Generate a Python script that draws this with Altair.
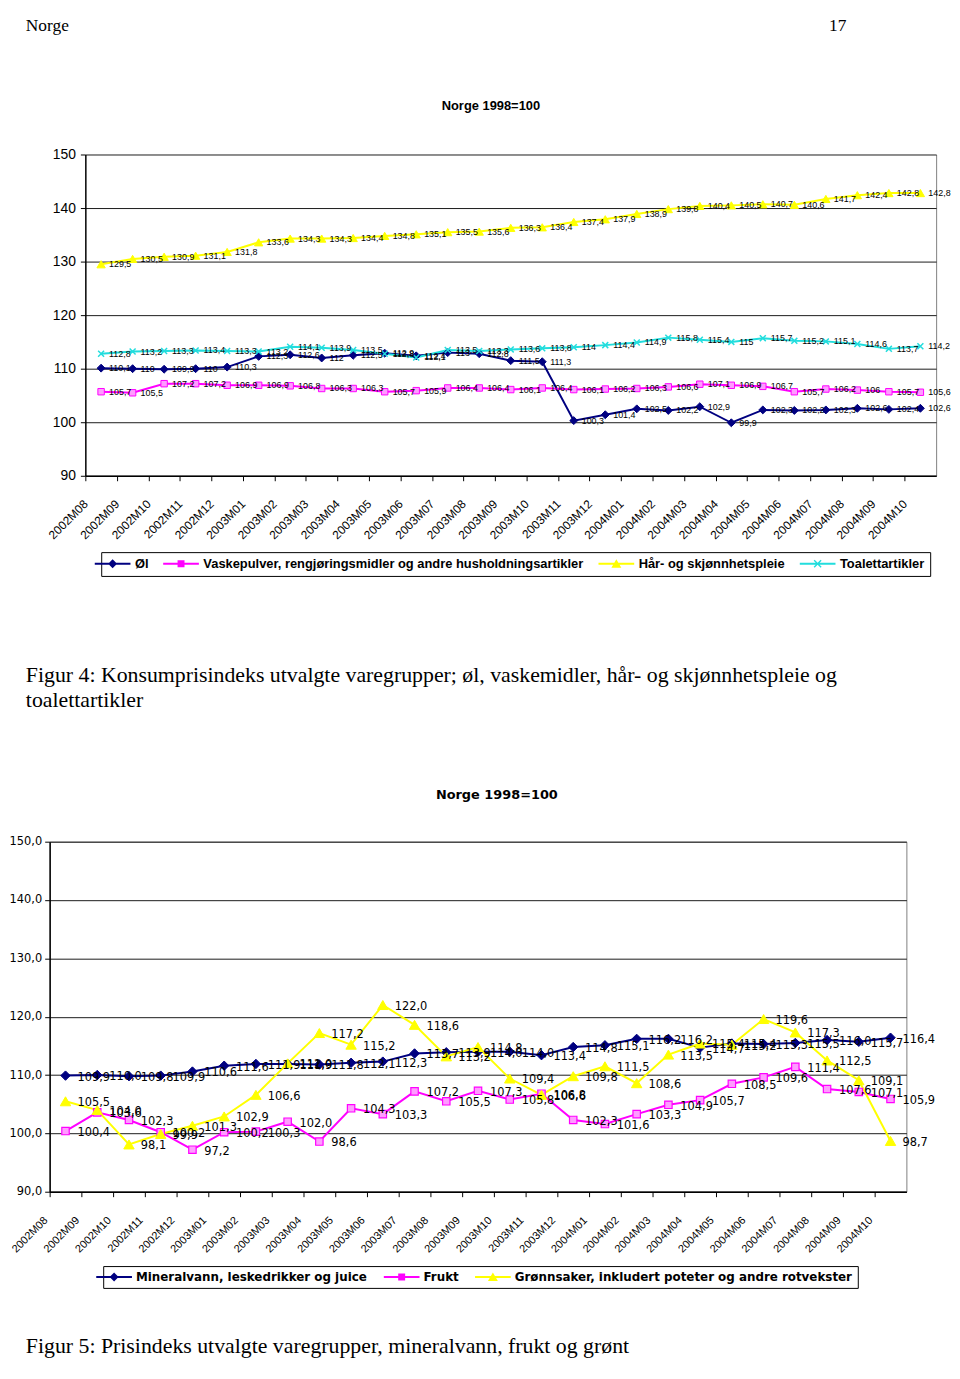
import altair as alt
import pandas as pd

# ---------------- data ----------------
months = ["2002M08", "2002M09", "2002M10", "2002M11", "2002M12",
          "2003M01", "2003M02", "2003M03", "2003M04", "2003M05", "2003M06",
          "2003M07", "2003M08", "2003M09", "2003M10", "2003M11", "2003M12",
          "2004M01", "2004M02", "2004M03", "2004M04", "2004M05", "2004M06",
          "2004M07", "2004M08", "2004M09", "2004M10"]

# Figur 4
fig4_names = ["Øl",
              "Vaskepulver, rengjøringsmidler og andre husholdningsartikler",
              "Hår- og skjønnhetspleie",
              "Toalettartikler"]
ol_values = [110.1, 110.0, 109.9, 110.0, 110.3, 112.3, 112.6, 112.0, 112.5, 112.9,
             112.4, 113.0, 112.8, 111.5, 111.3, 100.3, 101.4, 102.5, 102.2, 102.9,
             99.9, 102.3, 102.2, 102.3, 102.6, 102.4, 102.6]
vask_values = [105.7, 105.5, 107.2, 107.2, 106.9, 106.9, 106.8, 106.3, 106.3, 105.7,
               105.9, 106.4, 106.4, 106.1, 106.4, 106.1, 106.2, 106.3, 106.6, 107.1,
               106.9, 106.7, 105.7, 106.2, 106.0, 105.7, 105.6]
haar_values = [129.5, 130.5, 130.9, 131.1, 131.8, 133.6, 134.3, 134.3, 134.4, 134.8,
               135.1, 135.5, 135.6, 136.3, 136.4, 137.4, 137.9, 138.9, 139.8, 140.4,
               140.5, 140.7, 140.6, 141.7, 142.4, 142.8, 142.8]
toalett_values = [112.8, 113.2, 113.3, 113.4, 113.3, 113.2, 114.1, 113.9, 113.5, 112.8,
                  112.1, 113.5, 113.3, 113.6, 113.8, 114.0, 114.4, 114.9, 115.8, 115.4,
                  115.0, 115.7, 115.2, 115.1, 114.6, 113.7, 114.2]

# Figur 5
fig5_names = ["Mineralvann, leskedrikker og juice",
              "Frukt",
              "Grønnsaker, inkludert poteter og andre rotvekster"]
mineral_values = [109.9, 110.0, 109.8, 109.9, 110.6, 111.6, 111.9, 111.9, 111.8, 112.1,
                  112.3, 113.7, 113.9, 114.0, 114.0, 113.4, 114.8, 115.1, 116.2, 116.2,
                  114.7, 115.4, 115.3, 115.5, 116.0, 115.7, 116.4]
frukt_values = [100.4, 103.6, 102.3, 100.2, 97.2, 100.2, 100.3, 102.0, 98.6, 104.3,
                103.3, 107.2, 105.5, 107.3, 105.8, 106.8, 102.3, 101.6, 103.3, 104.9,
                105.7, 108.5, 109.6, 111.4, 107.6, 107.1, 105.9]
gronn_values = [105.5, 104.0, 98.1, 99.9, 101.3, 102.9, 106.6, 112.0, 117.2, 115.2,
                122.0, 118.6, 113.2, 114.8, 109.4, 106.6, 109.8, 111.5, 108.6, 113.5,
                115.4, 115.2, 119.6, 117.3, 112.5, 109.1, 98.7]

y_ticks = [90, 100, 110, 120, 130, 140, 150]

header_left = "Norge"
header_right = "17"
chart_title = "Norge 1998=100"
caption4 = ["Figur 4: Konsumprisindeks utvalgte varegrupper; øl, vaskemidler, hår- og skjønnhetspleie og",
            "toalettartikler"]
caption5 = "Figur 5: Prisindeks utvalgte varegrupper, mineralvann, frukt og grønt"

# ---------------- styles ----------------
SANS = "Liberation Sans, Arial, sans-serif"
SERIF = "Liberation Serif, Times New Roman, serif"
DEJAVU = "DejaVu Sans"

NAVY, MAGENTA, YELLOW, CYAN = "#000080", "#FF00FF", "#FFFF00", "#22DDDD"
PINK_FILL = "#FF9CFF"

X_CROSS = "M-1,-1L1,1M-1,1L1,-1"

# legend symbols (filled): a thin bar as the line with the marker in the middle
LEG_LINE = "M-3.6,-0.2L3.6,-0.2L3.6,0.2L-3.6,0.2Z"
LEG_DIAMOND = LEG_LINE + "M0,-0.9L0.9,0L0,0.9L-0.9,0Z"
LEG_SQUARE = LEG_LINE + "M-0.7,-0.7L0.7,-0.7L0.7,0.7L-0.7,0.7Z"
LEG_TRIANGLE = LEG_LINE + "M0,-0.9L1,0.8L-1,0.8Z"
LEG_CROSS = LEG_LINE + "M-0.8,-0.6L-0.6,-0.8L0.8,0.6L0.6,0.8ZM0.6,-0.8L0.8,-0.6L-0.6,0.8L-0.8,0.6Z"

VIEW_X0 = 49  # page x of the view origin


def long_frame(names, series):
    rows = []
    for name, vals in zip(names, series):
        for m, v in zip(months, vals):
            rows.append({"serie": name, "maaned": m, "verdi": v})
    return pd.DataFrame(rows)


def panel(names, series, strokes, fills, markers, legend_paths, width, height,
          x_start, x_font_size, x_label_offset, x_label_padding, y_axis_kw,
          label_expr, label_font, label_size, label_dx, label_dy, leg, view_bg):
    df = long_frame(names, series)
    band = (width - x_start) / len(months)
    x_scale = alt.Scale(type="band", paddingInner=0, paddingOuter=0,
                        range=[x_start, width])
    x_enc = alt.X("maaned:N", sort=months, bandPosition=0.5, scale=x_scale,
                  axis=alt.Axis(title=None, labelAngle=315,
                                labelAlign="right", labelBaseline="middle",
                                tickOffset=-band / 2,
                                labelPadding=x_label_padding, labelOffset=x_label_offset,
                                labelFont=SANS, labelFontSize=x_font_size,
                                labelColor="black", labelOverlap=False,
                                tickSize=5, tickColor="black", tickWidth=1,
                                domainColor="black", domainWidth=1.5, grid=False))
    y_scale = alt.Scale(domain=[90, 150], nice=False, zero=False)
    y_enc = alt.Y("verdi:Q", scale=y_scale,
                  axis=alt.Axis(title=None, values=y_ticks, grid=True,
                                gridColor="#1a1a1a", gridWidth=1, gridOpacity=1,
                                domainColor="black", domainWidth=1.5,
                                tickColor="black", tickSize=5, labelColor="black",
                                **y_axis_kw))
    base = alt.Chart(df).encode(x=x_enc, y=y_enc)

    line_layers = []
    point_layers = []
    for name, stroke, fill, (shape, size, filled, sw) in zip(names, strokes, fills, markers):
        one_series = base.transform_filter(alt.datum.serie == name)
        line_layers.append(one_series.mark_line(color=stroke, strokeWidth=2))
        kw = dict(shape=shape, size=size, filled=filled, stroke=stroke,
                  strokeWidth=sw, opacity=1)
        if filled:
            kw["fill"] = fill
        point_layers.append(one_series.mark_point(**kw))

    labels = base.transform_calculate(lbl=label_expr).mark_text(
        align="left", baseline="middle", dx=label_dx, dy=label_dy,
        font=label_font, fontSize=label_size, color="black").encode(text="lbl:N")

    # invisible points that only carry the legend (colour + line/marker symbol)
    legend_layer = base.mark_point(filled=True, opacity=1, size=0).encode(
        color=alt.Color("serie:N", scale=alt.Scale(domain=names, range=strokes), legend=leg),
        shape=alt.Shape("serie:N", scale=alt.Scale(domain=names, range=legend_paths), legend=leg))

    return alt.layer(*line_layers, *point_layers, labels, legend_layer).properties(
        width=width, height=height, view=view_bg)


one = pd.DataFrame({"k": [0]})


def text_mark(txt, x, y, font, size, weight="normal", align="left"):
    return alt.Chart(one).mark_text(
        text=txt, align=align, baseline="alphabetic", font=font, fontSize=size,
        fontWeight=weight, color="black").encode(x=alt.value(x), y=alt.value(y))


# ---------------- Figur 4 ----------------
top_start = 85 - VIEW_X0
top_w, top_h = 943 - VIEW_X0, 324
leg_top = alt.Legend(title=None, orient="none", legendX=101 - VIEW_X0, legendY=401,
                     direction="horizontal", symbolSize=100, symbolStrokeWidth=0,
                     symbolOpacity=1, labelLimit=1000, labelColor="black",
                     strokeColor="black", fillColor="white", padding=5,
                     labelFont=SANS, labelFontSize=13, labelFontWeight="bold",
                     labelOffset=16, columnPadding=14)
top = panel(
    fig4_names, [ol_values, vask_values, haar_values, toalett_values],
    [NAVY, MAGENTA, YELLOW, CYAN], [NAVY, PINK_FILL, YELLOW, CYAN],
    [("diamond", 64, True, 1), ("square", 42, True, 1),
     ("triangle-up", 70, True, 1), (X_CROSS, 36, False, 1.5)],
    [LEG_DIAMOND, LEG_SQUARE, LEG_TRIANGLE, LEG_CROSS],
    top_w, top_h, top_start, 12, 0, 21,
    dict(format="d", labelFont=SANS, labelFontSize=14, labelPadding=5, offset=-top_start),
    "replace('' + datum.verdi, '.', ',')", SANS, 9, 8, 0, leg_top,
    # only the right-hand edge of the view frame is drawn (grey)
    alt.ViewBackground(stroke="#808080", strokeOpacity=1, strokeWidth=1,
                       strokeDash=[0, top_w, top_h, 4000]))

# ---------------- Figur 5 ----------------
leg_bottom = alt.Legend(title=None, orient="none", legendX=103 - VIEW_X0, legendY=428,
                        direction="horizontal", symbolSize=100, symbolStrokeWidth=0,
                        symbolOpacity=1, labelLimit=1000, labelColor="black",
                        strokeColor="black", fillColor="white", padding=5,
                        labelFont=DEJAVU, labelFontSize=12, labelFontWeight="bold",
                        labelOffset=16, columnPadding=16)
bottom = panel(
    fig5_names, [mineral_values, frukt_values, gronn_values],
    [NAVY, MAGENTA, YELLOW], [NAVY, PINK_FILL, YELLOW],
    [("diamond", 90, True, 1), ("square", 56, True, 1.2),
     ("triangle-up", 110, True, 1)],
    [LEG_DIAMOND, LEG_SQUARE, LEG_TRIANGLE],
    913 - VIEW_X0, 353, 0, 11, -4, 22,
    dict(labelExpr="replace(format(datum.value, '.1f'), '.', ',')",
         labelFont=DEJAVU, labelFontSize=11.5, labelPadding=3),
    "replace(format(datum.verdi, '.1f'), '.', ',')", DEJAVU, 11.5, 12, 2, leg_bottom,
    alt.ViewBackground(stroke="#808080", strokeOpacity=1, strokeWidth=1))

# ---------------- text panels ----------------
header = alt.layer(
    text_mark(header_left, 25 - VIEW_X0, 17.5, SERIF, 17.5),
    text_mark(header_right, 835 - VIEW_X0, 17.5, SERIF, 17.5),
    text_mark(chart_title, 494 - VIEW_X0, 97, SANS, 13, "bold", "center"),
).properties(width=858, height=142)

cap4 = alt.layer(
    text_mark(caption4[0], 25 - VIEW_X0, 208, SERIF, 22),
    text_mark(caption4[1], 25 - VIEW_X0, 233, SERIF, 22),
    text_mark(chart_title, 500 - VIEW_X0, 326, DEJAVU, 13, "bold", "center"),
).properties(width=858, height=369)

cap5 = alt.layer(
    text_mark(caption5, 25 - VIEW_X0, 163, SERIF, 22),
).properties(width=858, height=167)

chart = alt.vconcat(header, top, cap4, bottom, cap5, spacing=0, bounds="flush").resolve_scale(
    color="independent", shape="independent"
).resolve_legend(
    color="independent", shape="independent"
).properties(padding=0).configure(background="white", font=SANS).configure_view(strokeOpacity=0)

chart.save("out.html", embed_options={"renderer": "svg", "actions": False})
